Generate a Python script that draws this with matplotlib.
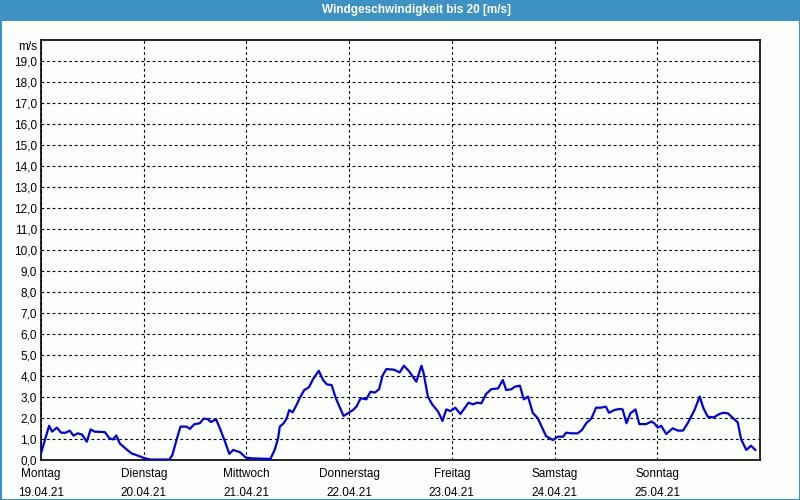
import matplotlib
matplotlib.use("Agg")
from matplotlib import pyplot as plt
from matplotlib.patches import Rectangle

# hours since Monday 00:00 and wind speed in m/s
hours = [0.0, 1.9, 2.6, 3.7, 4.7, 5.8, 6.7, 7.6, 8.6, 9.6, 10.7, 11.6, 12.5,
         14.9, 16.0, 16.8, 17.6, 18.4, 19.5, 21.1, 22.6, 24.0,
         25.5, 30.0, 30.7, 31.7, 32.6, 34.0, 34.8, 35.8, 37.1, 38.0, 38.9,
         39.7, 40.9, 41.8, 43.0, 44.0, 44.9, 46.5, 47.6,
         48.0, 49.2, 53.6, 54.6, 55.4, 55.8, 56.7, 57.4, 58.0, 58.8, 59.7,
         60.5, 61.5, 62.6, 63.6, 64.9, 65.9, 66.8, 67.9, 68.9, 69.8, 70.7,
         71.7, 72.9, 73.7, 74.7, 76.0, 77.0, 78.0, 79.0, 79.8, 80.7, 82.5,
         83.8, 84.8, 85.9, 87.7, 88.9, 89.4, 90.4, 91.4, 92.8, 93.8, 94.7,
         95.7, 96.8, 98.0, 99.9, 100.9, 101.9, 102.9, 104.0, 105.2, 106.8,
         107.9, 108.7, 109.9, 110.7, 111.9, 112.8, 113.8, 114.9, 116.1,
         118.0, 119.6, 120.8, 122.0, 122.7, 123.9, 125.4, 126.4, 127.4,
         128.6, 129.7, 130.8, 132.0, 132.7, 134.0, 135.1, 135.9, 136.8,
         137.7, 138.9, 139.8, 141.4, 142.6, 143.3, 144.1, 144.9, 146.1,
         147.6, 148.8, 150.0, 151.1, 152.7, 153.9, 154.8, 155.8, 157.2,
         158.5, 159.5, 160.5, 161.5, 162.8, 163.6, 164.8, 165.9, 166.9]
speed = [0.32, 1.63, 1.35, 1.54, 1.30, 1.30, 1.40, 1.16, 1.27, 1.21, 0.87, 1.46, 1.35,
         1.33, 1.03, 0.98, 1.17, 0.79, 0.59, 0.32, 0.21, 0.10,
         0.02, 0.02, 0.24, 0.98, 1.59, 1.59, 1.48, 1.70, 1.75, 1.97, 1.95,
         1.81, 1.94, 1.51, 0.87, 0.29, 0.48, 0.37, 0.16,
         0.11, 0.08, 0.05, 0.48, 1.03, 1.59, 1.75, 1.98, 2.38, 2.27, 2.62,
         2.97, 3.33, 3.46, 3.86, 4.25, 3.81, 3.60, 3.57, 2.94, 2.51, 2.10,
         2.22, 2.38, 2.54, 2.94, 2.89, 3.25, 3.21, 3.37, 4.02, 4.33, 4.30,
         4.17, 4.49, 4.25, 3.73, 4.49, 4.13, 3.02, 2.65, 2.30, 1.86, 2.41,
         2.33, 2.49, 2.19, 2.73, 2.65, 2.73, 2.70, 3.14, 3.37, 3.41,
         3.81, 3.33, 3.37, 3.49, 3.54, 2.89, 3.02, 2.25, 1.98,
         1.14, 0.95, 1.11, 1.11, 1.30, 1.27, 1.27, 1.43, 1.75,
         1.98, 2.49, 2.49, 2.54, 2.25, 2.38, 2.43, 2.41, 1.75,
         2.22, 2.41, 1.71, 1.71, 1.83, 1.75, 1.54, 1.63, 1.24,
         1.51, 1.40, 1.40, 1.75, 2.38, 3.02, 2.46, 2.06, 2.03,
         2.19, 2.25, 2.22, 2.03, 1.79, 0.98, 0.48, 0.68, 0.48]

day_names = ['Montag', 'Dienstag', 'Mittwoch', 'Donnerstag', 'Freitag',
             'Samstag', 'Sonntag']
day_dates = ['19.04.21', '20.04.21', '21.04.21', '22.04.21', '23.04.21',
             '24.04.21', '25.04.21']
y_ticks = list(range(0, 20))

plt.rcParams['font.family'] = ['Liberation Sans', 'DejaVu Sans']

bg = '#fbfefb'
frame_blue = '#3d91c3'

fig = plt.figure(figsize=(8, 5), dpi=100, facecolor=bg)

# window frame and title bar
fig.patches.append(Rectangle((0, 1 - 21 / 500), 1, 21 / 500, transform=fig.transFigure,
                             facecolor=frame_blue, edgecolor='none', zorder=0))
fig.patches.append(Rectangle((0.5 / 800, 0.5 / 500), 1 - 1 / 800, 1 - 1 / 500,
                             transform=fig.transFigure, facecolor='none',
                             edgecolor=frame_blue, linewidth=1.5, zorder=0))
fig.text(0.52, 1 - 10.5 / 500, 'Windgeschwindigkeit bis 20 [m/s]', color='white',
         fontsize=8.5, fontweight='bold', ha='center', va='center')

ax = fig.add_axes([41 / 800, 40 / 500, 719 / 800, 420 / 500])
ax.set_facecolor(bg)
ax.plot(hours, speed, color='#0000e6', linewidth=1.6, zorder=3)

ax.set_xlim(0, 168)
ax.set_ylim(0, 20)
ax.set_yticks(y_ticks)
ax.set_yticklabels([f'{v},0' for v in y_ticks])
ax.set_xticks([24 * i for i in range(7)])
ax.set_xticklabels([f'{n}\n{d}' for n, d in zip(day_names, day_dates)],
                   linespacing=1.75)
ax.tick_params(length=0, labelsize=8.5, colors='black', pad=3)
ax.tick_params(axis='x', pad=6)

ax.grid(True, which='major', axis='both', color='black', linewidth=0.8,
        linestyle=(0, (2.5, 2.5)))

for s in ax.spines.values():
    s.set_linewidth(1.2)
    s.set_color('black')

fig.text(37 / 800, 1 - 46.5 / 500, 'm/s', fontsize=8.5, ha='right', va='center')

fig.savefig('out.png', dpi=100, facecolor=bg)
